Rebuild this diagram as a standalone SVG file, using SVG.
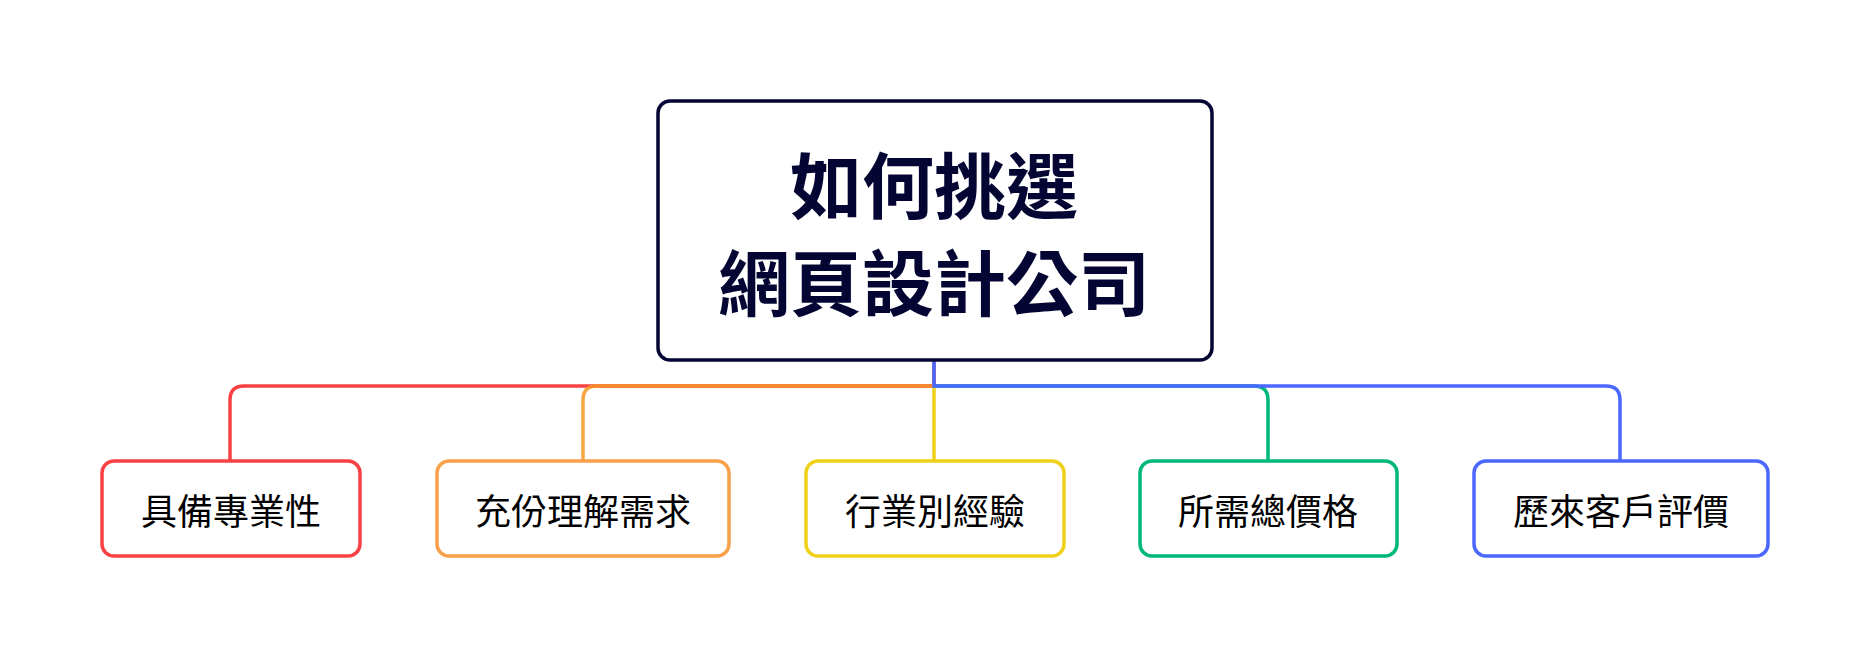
<svg xmlns="http://www.w3.org/2000/svg" width="1868" height="656" viewBox="0 0 1868 656">
<style>
.t{font-family:"Noto Sans CJK TC","Noto Sans CJK SC",sans-serif;text-anchor:middle;dominant-baseline:central}
.c{fill:none;stroke-width:3.5}
.n{fill:#fff;stroke-width:3.5}
</style>
<rect width="1868" height="656" fill="#fff"/>
<g id="connectors">
<path class="c" stroke="#f94144" d="M934 360 V386 H244 Q230 386 230 400 V461"/>
<path class="c" stroke="#f8961e" stroke-opacity="0.85" d="M934 386 H597 Q583 386 583 400 V461"/>
<path class="c" stroke="#f0d01a" d="M934 386 V461"/>
<path class="c" stroke="#00b87a" d="M934 386 H1254 Q1268 386 1268 400 V461"/>
<path class="c" stroke="#4a67ff" d="M934 360 V386 H1606 Q1620 386 1620 400 V461"/>
</g>
<g id="root"><rect class="n" x="658" y="101" width="554" height="259" rx="12" stroke="#050533" stroke-width="4"/>
<text class="t" x="934" y="181" font-size="72" font-weight="bold" fill="#050533">如何挑選</text>
<text class="t" x="934" y="278" font-size="72" font-weight="bold" fill="#050533">網頁設計公司</text></g>
<g id="n1"><rect class="n" x="102" y="461" width="258" height="95" rx="12" stroke="#f94144"/><text class="t" x="231" y="509" font-size="36">具備專業性</text></g>
<g id="n2"><rect class="n" x="437" y="461" width="292" height="95" rx="12" stroke="#f8a04a"/><text class="t" x="583" y="509" font-size="36">充份理解需求</text></g>
<g id="n3"><rect class="n" x="806" y="461" width="258" height="95" rx="12" stroke="#f0d01a"/><text class="t" x="935" y="509" font-size="36">行業別經驗</text></g>
<g id="n4"><rect class="n" x="1140" y="461" width="257" height="95" rx="12" stroke="#00b87a"/><text class="t" x="1268" y="509" font-size="36">所需總價格</text></g>
<g id="n5"><rect class="n" x="1474" y="461" width="294" height="95" rx="12" stroke="#4a67ff"/><text class="t" x="1621" y="509" font-size="36">歷來客戶評價</text></g>
</svg>
